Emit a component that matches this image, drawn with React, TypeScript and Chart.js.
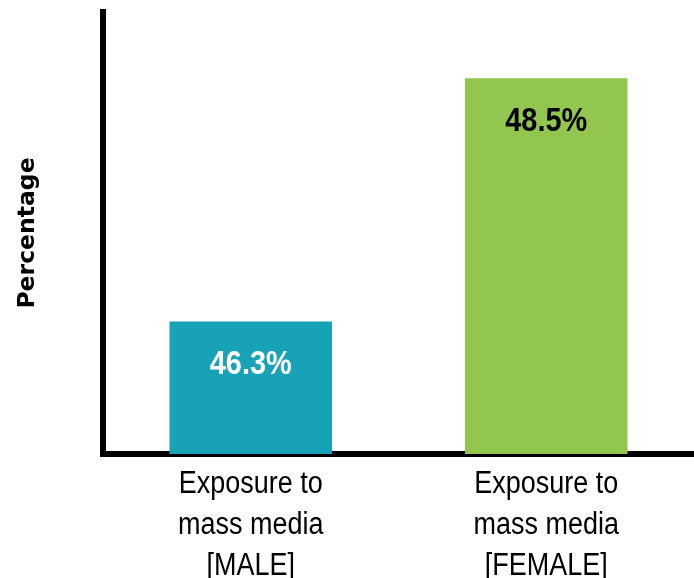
import React, { useEffect, useRef } from "react";
import { Chart, registerables } from "chart.js";

Chart.register(...registerables);

const categories: string[][] = [
  ["Exposure to", "mass media", "[MALE]"],
  ["Exposure to", "mass media", "[FEMALE]"],
];
const values: number[] = [46.3, 48.5];
const valueLabels: string[] = ["46.3%", "48.5%"];
const barColors: string[] = ["#18A2B8", "#93C64F"];
const labelColors: string[] = ["#ffffff", "#000000"];
const yTitle = "Percentage";

const SANS = '"Liberation Sans", Arial, sans-serif';

// Draws text horizontally condensed (the original uses a condensed face)
function condensedText(ctx: CanvasRenderingContext2D, text: string, x: number, y: number, sx: number) {
  ctx.save();
  ctx.translate(x, y);
  ctx.scale(sx, 1);
  ctx.fillText(text, 0, 0);
  ctx.restore();
}

const condensedLabelsPlugin = {
  id: "condensedLabels",
  afterDatasetsDraw(chart: any) {
    const ctx = chart.ctx as CanvasRenderingContext2D;
    const meta = chart.getDatasetMeta(0);
    ctx.save();
    ctx.font = `bold 34px ${SANS}`;
    ctx.textAlign = "center";
    ctx.textBaseline = "alphabetic";
    meta.data.forEach((bar: any, i: number) => {
      ctx.fillStyle = labelColors[i];
      condensedText(ctx, valueLabels[i], bar.x, bar.y + 53, 0.85);
    });
    ctx.restore();
  },
  afterDraw(chart: any) {
    const ctx = chart.ctx as CanvasRenderingContext2D;
    const xScale = chart.scales.x;
    ctx.save();
    ctx.font = `31px ${SANS}`;
    ctx.fillStyle = "#000000";
    ctx.textAlign = "center";
    ctx.textBaseline = "alphabetic";
    const firstBaseline = xScale.top + 39;
    const lineStep = 41;
    categories.forEach((lines, i) => {
      const x = xScale.getPixelForTick(i);
      lines.forEach((line, j) => {
        condensedText(ctx, line, x, firstBaseline + j * lineStep, 0.87);
      });
    });
    ctx.restore();
  },
};

export default function App() {
  const canvasRef = useRef<HTMLCanvasElement | null>(null);

  useEffect(() => {
    if (!canvasRef.current) return;
    const chart = new Chart(canvasRef.current, {
      type: "bar",
      data: {
        labels: categories,
        datasets: [
          {
            data: values,
            backgroundColor: barColors,
            borderWidth: 0,
            categoryPercentage: 1,
            barPercentage: 0.55,
          },
        ],
      },
      options: {
        animation: false,
        responsive: true,
        maintainAspectRatio: false,
        layout: { padding: { top: 12, left: 0, right: 0, bottom: 0 } },
        plugins: {
          legend: { display: false },
          tooltip: { enabled: false },
        },
        scales: {
          x: {
            grid: { display: false, drawTicks: false },
            border: { display: true, color: "#000000", width: 6 },
            ticks: { display: false },
            afterFit(scale: any) {
              scale.height = 124;
            },
          },
          y: {
            min: 45.1,
            max: 49.1,
            grid: { display: false, drawTicks: false },
            border: { display: true, color: "#000000", width: 6 },
            ticks: { display: false },
            title: {
              display: true,
              text: yTitle,
              color: "#000000",
              padding: { top: 14, bottom: 0 },
              font: { family: '"DejaVu Sans", sans-serif', size: 23.5, weight: "bold" },
            },
            afterFit(scale: any) {
              scale.width = 103;
            },
          },
        },
      },
      plugins: [condensedLabelsPlugin],
    });
    return () => chart.destroy();
  }, []);

  return (
    <div style={{ position: "absolute", left: 0, top: 0, width: 694, height: 578, background: "#ffffff" }}>
      <canvas ref={canvasRef} />
    </div>
  );
}
